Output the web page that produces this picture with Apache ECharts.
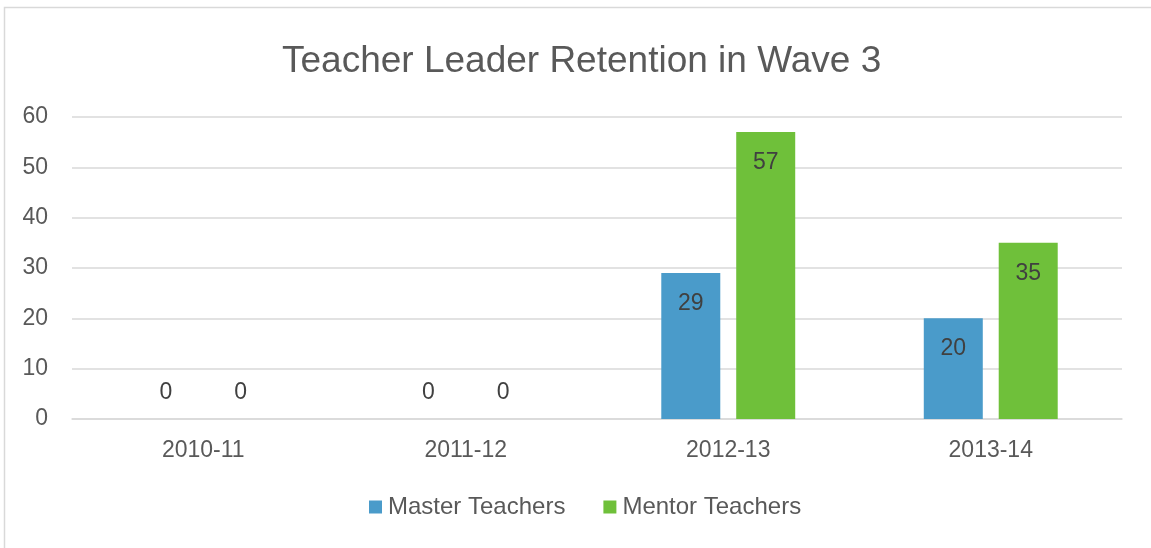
<!DOCTYPE html>
<html>
<head>
<meta charset="utf-8">
<script src="https://cdn.jsdelivr.net/npm/echarts@6/dist/echarts.min.js"></script>
<style>
html, body { margin: 0; padding: 0; background: #fff; }
#main { width: 1151px; height: 548px; }
</style>
</head>
<body>
<div id="main"></div>
<script>
// 图表数据
var categories = ['2010-11', '2011-12', '2012-13', '2013-14'];
var seriesNames = ['Master Teachers', 'Mentor Teachers'];
var masterValues = [0, 0, 29, 20];
var mentorValues = [0, 0, 57, 35];
var seriesColors = ['#4a9bca', '#6fc03a'];

var myChart = echarts.init(document.getElementById('main'));

// 0 的标签放在柱子上方，其他放在柱子内部顶端
function make_bar_data(values) {
    return values.map(function (v) {
        if (v === 0) {
            return { value: v, label: { position: 'top', distance: 15 } };
        }
        return v;
    });
}

function make_series(name, values, color) {
    return {
        name: name,
        type: 'bar',
        barWidth: 59,
        barGap: '27%',
        itemStyle: { color: color },
        label: {
            show: true,
            position: 'insideTop',
            distance: 19,
            color: '#404040',
            fontSize: 23,
            fontFamily: 'Liberation Sans'
        },
        data: make_bar_data(values)
    };
}

var option = {
    animation: false,
    backgroundColor: '#fff',
    textStyle: { fontFamily: 'Liberation Sans' },
    title: {
        text: 'Teacher Leader Retention in Wave 3',
        left: 277,
        top: 38,
        textStyle: { color: '#595959', fontSize: 37, fontWeight: 'normal', fontFamily: 'Liberation Sans' }
    },
    graphic: [{
        type: 'rect',
        shape: { x: 4.5, y: 7.5, width: 1170, height: 570 },
        style: { fill: 'none', stroke: '#d9d9d9', lineWidth: 1.5 },
        silent: true
    }],
    legend: {
        data: seriesNames,
        bottom: 24,
        left: 364,
        icon: 'rect',
        itemWidth: 13,
        itemHeight: 13,
        itemGap: 38,
        textStyle: { color: '#595959', fontSize: 24, padding: [0, 0, 0, 1] }
    },
    grid: {
        left: 72,
        right: 29,
        top: 117,
        bottom: 129,
        outerBoundsMode: 'none'
    },
    xAxis: {
        type: 'category',
        data: categories,
        axisLine: { lineStyle: { color: '#d9d9d9', width: 1.5 } },
        axisTick: { show: false },
        axisLabel: { color: '#595959', fontSize: 23, margin: 20 }
    },
    yAxis: {
        type: 'value',
        min: 0,
        max: 60,
        interval: 10,
        axisLine: { show: false },
        axisTick: { show: false },
        axisLabel: { color: '#595959', fontSize: 23, margin: 24 },
        splitLine: { lineStyle: { color: '#d9d9d9', width: 1.5 } }
    },
    series: [
        make_series(seriesNames[0], masterValues, seriesColors[0]),
        make_series(seriesNames[1], mentorValues, seriesColors[1])
    ]
};

myChart.setOption(option);
</script>
</body>
</html>
